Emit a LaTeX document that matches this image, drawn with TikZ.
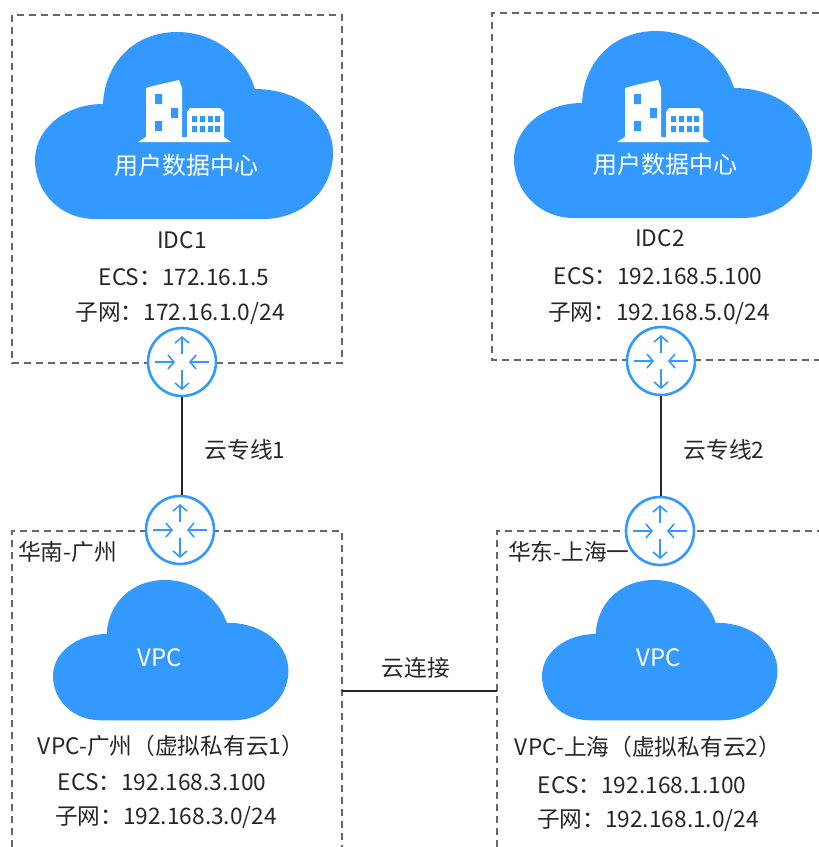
\documentclass[tikz,border=0pt]{standalone}
\usepackage{xcolor}
\usepackage{fontspec}
\setmainfont{Noto Sans CJK SC}
\usetikzlibrary{arrows.meta}
\definecolor{cloudblue}{HTML}{3399FF}
\definecolor{labelgray}{HTML}{262626}
\tikzset{
  dashbox/.style={draw=black!60, dash pattern=on 7pt off 5pt, line width=1.3pt},
  router/.style={draw=cloudblue, circle, fill=white, line width=2.6pt, minimum size=68pt, inner sep=0pt},
  label/.style={text=labelgray, font=\fontsize{22.7}{26}\selectfont, inner sep=0pt},
  cloudtext/.style={text=white, font=\fontsize{24}{28}\selectfont, inner sep=0pt},
  link/.style={draw=black!85, line width=1.3pt},
  cloudshape/.pic={
    \fill[cloudblue] (60,187) .. controls (25,187) and (0,160) .. (0,128)
      .. controls (0,97) and (30,72) .. (68,72)
      .. controls (70,30) and (100,0) .. (142,0)
      .. controls (180,0) and (210,25) .. (220,57)
      .. controls (265,57) and (298,85) .. (298,121)
      .. controls (298,158) and (268,187) .. (228,187) -- cycle;
  },
  buildingicon/.pic={
    \fill[white] (8,8) -- (19,5) -- (41,0) -- (44,8) -- (44,57) -- (49,57) -- (49,32) -- (52,28)
      -- (82,28) -- (86,32) -- (86,57) -- (93,62) -- (0,62) -- (8,57) -- cycle;
    \fill[cloudblue] (17,14) rectangle (24,24) (17,41) rectangle (24,51) (33,28) rectangle (40,38);
    \fill[cloudblue] (54,36) rectangle (59,42) (62,36) rectangle (67,42) (70,36) rectangle (75,42) (77,36) rectangle (82,42);
    \fill[cloudblue] (54,46) rectangle (59,52) (62,46) rectangle (67,52) (70,46) rectangle (75,52) (77,46) rectangle (82,52);
  },
  routericon/.pic={
    \draw[cloudblue, line width=1.6pt, -{Straight Barb[length=6pt,width=14pt]}] (0,-8) -- (0,-26);
    \draw[cloudblue, line width=1.6pt, -{Straight Barb[length=6pt,width=14pt]}] (0,8) -- (0,28);
    \draw[cloudblue, line width=1.6pt, -{Straight Barb[length=6pt,width=14pt]}] (-27,0) -- (-7,0);
    \draw[cloudblue, line width=1.6pt, -{Straight Barb[length=6pt,width=14pt]}] (27,0) -- (7,0);
  },
}
\begin{document}
\begin{tikzpicture}[x=1pt, y=-1pt]
    \useasboundingbox (0,0) rectangle (819,847);

    % boxes
    \draw[dashbox] (12,15) rectangle (342,363);
    \draw[dashbox] (819,13) -| (492,360) -- (819,360);
    \draw[dashbox] (12,847) |- (342,531) -- (342,847);
    \draw[dashbox] (497,847) |- (819,531);

    % clouds
    \pic at (35,32) {cloudshape};
    \pic at (514,31) {cloudshape};
    \pic[xscale=0.79, yscale=0.75] at (53,580) {cloudshape};
    \pic[xscale=0.79, yscale=0.75] at (542,580) {cloudshape};
    \pic at (138,80) {buildingicon};
    \pic at (617,80) {buildingicon};

    \node[cloudtext] (idconename) at (186,165) {用户数据中心};
    \node[cloudtext] (idctwoname) at (665,164) {用户数据中心};
    \node[cloudtext] (vpcgzname) at (160,658) {VPC};
    \node[cloudtext] (vpcshname) at (659,658) {VPC};

    % links
    \coordinate (edgeguangzhou) at (342,691);
    \coordinate (edgeshanghai) at (497,691);
    \draw[link] (edgeguangzhou) -- (edgeshanghai);

    % routers
    \node[router] (routeridcone) at (182,362) {};
    \node[router] (routerguangzhou) at (180,530) {};
    \node[router] (routeridctwo) at (661,361) {};
    \node[router] (routershanghai) at (660,531) {};
    \pic at (routeridcone.center) {routericon};
    \pic at (routerguangzhou.center) {routericon};
    \pic at (routeridctwo.center) {routericon};
    \pic at (routershanghai.center) {routericon};
    \draw[link] (routeridcone.south) -- (routeridcone.south |- routerguangzhou.north);
    \draw[link] (routeridctwo.south) -- (routeridctwo.south |- routershanghai.north);

    % labels
    \node[label] (idcone) at (182,240) {IDC1};
    \node[label] (ecsone) at (184,277) {ECS：172.16.1.5};
    \node[label] (subnetone) at (180,314) {子网：172.16.1.0/24};
    \node[label] (idctwo) at (660,238) {IDC2};
    \node[label] (ecstwo) at (658,276) {ECS：192.168.5.100};
    \node[label] (subnettwo) at (659,314) {子网：192.168.5.0/24};
    \node[label] (lineone) at (245,450) {云专线1};
    \node[label] (linetwo) at (724,450) {云专线2};
    \node[label, anchor=west] (regionsouth) at (18,552) {华南-广州};
    \node[label, anchor=west] (regioneast) at (508,552) {华东-上海一};
    \node[label] (cloudconnect) at (416,668) {云连接};
    \node[label] (vpcgz) at (171,746) {VPC-广州（虚拟私有云1）};
    \node[label] (ecsgz) at (162,782) {ECS：192.168.3.100};
    \node[label] (subnetgz) at (166,818) {子网：192.168.3.0/24};
    \node[label] (vpcsh) at (648,747) {VPC-上海（虚拟私有云2）};
    \node[label] (ecssh) at (642,785) {ECS：192.168.1.100};
    \node[label] (subnetsh) at (648,821) {子网：192.168.1.0/24};
\end{tikzpicture}
\end{document}
